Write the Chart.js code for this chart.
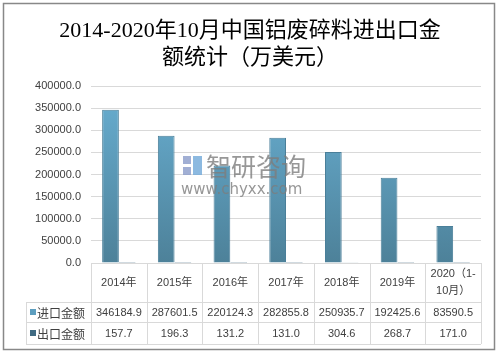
<!DOCTYPE html>
<html>
<head>
  <meta charset="UTF-8">
  <title>铝废碎料进出口金额</title>
  <script src="https://cdn.jsdelivr.net/npm/chart.js@4/dist/chart.umd.min.js"></script>
  <style>
    body { margin: 0; background: #fff; }
    #wrap { width: 500px; height: 354px; position: relative; }
  </style>
</head>
<body>
  <div id="wrap"><canvas id="chartAl" width="500" height="354"></canvas></div>

  <script>
    const titleLines = ["2014-2020年10月中国铝废碎料进出口金", "额统计（万美元）"];
    const years = ["2014年", "2015年", "2016年", "2017年", "2018年", "2019年", ["2020（1-", "10月）"]];
    const importVals = [346184.9, 287601.5, 220124.3, 282855.8, 250935.7, 192425.6, 83590.5];
    const exportVals = [157.7, 196.3, 131.2, 131.0, 304.6, 268.7, 171.0];
    const seriesNames = ["进口金额", "出口金额"];
    const yTicks = [0, 50000, 100000, 150000, 200000, 250000, 300000, 350000, 400000];

    const cjk = "'Noto Sans CJK SC', 'Liberation Sans', sans-serif";
    const num = "'Liberation Sans', 'Noto Sans CJK SC', sans-serif";
    const importColor = "#5d9ebf";
    const exportColor = "#3f6a82";

    function importGradient(ctx) {
      const area = ctx.chart.chartArea;
      if (!area) return importColor;
      const g = ctx.chart.ctx.createLinearGradient(0, area.top, 0, area.bottom);
      g.addColorStop(0, "#69afd2");
      g.addColorStop(1, "#4d8199");
      return g;
    }

    // frame, title, data table under the axis and the watermark
    const tablePlugin = {
      id: "tablePlugin",
      beforeDraw(chart) {
        const c = chart.ctx;
        c.save();
        c.fillStyle = "#fff";
        c.fillRect(0, 0, chart.width, chart.height);
        c.strokeStyle = "#888";
        c.lineWidth = 1.5;
        c.strokeRect(3.5, 3.5, 491, 346);
        c.fillStyle = "#000";
        c.textAlign = "center";
        c.textBaseline = "middle";
        c.font = "22px 'Liberation Serif', 'Noto Sans CJK SC', serif";
        c.fillText(titleLines[0], 250, 31);
        c.fillText(titleLines[1], 250, 58);
        c.restore();
      },
      afterDatasetsDraw(chart) {
        const c = chart.ctx;
        c.save();
        // watermark
        c.globalAlpha = 0.8;
        c.fillStyle = "#8a9bc9";
        c.fillRect(183, 156, 8, 8);
        c.fillRect(183, 167, 8, 8);
        c.fillStyle = "#6fa7d8";
        c.fillRect(193, 156, 9, 19);
        c.fillStyle = "#7d7d7d";
        c.font = "25px " + cjk;
        c.textBaseline = "middle";
        c.textAlign = "left";
        c.fillText("智研咨询", 206, 166);
        c.font = "15px 'DejaVu Sans', sans-serif";
        c.fillText("www.chyxx.com", 181, 190);
        c.restore();
      },
      afterDraw(chart) {
        const c = chart.ctx;
        const x = chart.scales.x;
        const area = chart.chartArea;
        const n = years.length;
        const w = (area.right - area.left) / n;
        const top = area.bottom;
        const r1 = top + 39, r2 = r1 + 20, r3 = r2 + 22;
        const legLeft = 26;
        c.save();
        c.strokeStyle = "#d9d9d9";
        c.lineWidth = 1;
        [[area.left, top], [legLeft, r1], [legLeft, r2], [legLeft, r3]].forEach(([x0, y]) => {
          c.beginPath();
          c.moveTo(x0, Math.round(y) + 0.5);
          c.lineTo(area.right, Math.round(y) + 0.5);
          c.stroke();
        });
        for (let i = 0; i <= n; i++) {
          const xx = Math.round(area.left + i * w) + 0.5;
          c.beginPath();
          c.moveTo(xx, top);
          c.lineTo(xx, r3);
          c.stroke();
        }
        c.beginPath();
        c.moveTo(legLeft + 0.5, r1);
        c.lineTo(legLeft + 0.5, r3);
        c.stroke();

        c.fillStyle = "#404040";
        c.textAlign = "center";
        c.textBaseline = "middle";
        c.font = "11px " + num;
        years.forEach((lab, i) => {
          const cx = x.getPixelForValue(i);
          const lines = Array.isArray(lab) ? lab : [lab];
          lines.forEach((ln, k) => {
            const y = (top + r1) / 2 + (k - (lines.length - 1) / 2) * 17;
            c.fillText(ln, cx, y);
          });
          c.fillText(importVals[i].toFixed(1), cx, (r1 + r2) / 2 + 1);
          c.fillText(exportVals[i].toFixed(1), cx, (r2 + r3) / 2 + 1);
        });

        const rows = [[r1, r2, importColor], [r2, r3, exportColor]];
        rows.forEach(([a, b, col], k) => {
          const cy = (a + b) / 2;
          c.fillStyle = col;
          c.fillRect(30, cy - 3, 6, 6);
          c.fillStyle = "#404040";
          c.textAlign = "left";
          c.font = "12px " + cjk;
          c.fillText(seriesNames[k], 37, cy + 1);
        });
        c.restore();
      }
    };

    const chartAl = new Chart(document.getElementById("chartAl"), {
      type: "bar",
      data: {
        labels: years,
        datasets: [
          { label: seriesNames[0], data: importVals, backgroundColor: importGradient, borderColor: "#4a7f99", borderWidth: 1 },
          { label: seriesNames[1], data: exportVals, backgroundColor: exportColor, borderColor: "#3a6177", borderWidth: 1 }
        ]
      },
      options: {
        responsive: false,
        animation: false,
        layout: { padding: { left: 0, right: 19, top: 86, bottom: 91 } },
        datasets: { bar: { categoryPercentage: 0.6, barPercentage: 1.0 } },
        plugins: {
          legend: { display: false },
          tooltip: { enabled: false },
          title: { display: false }
        },
        scales: {
          x: { display: false },
          y: {
            min: 0,
            max: 400000,
            afterFit(scale) { scale.width = 91; },
            afterBuildTicks(scale) { scale.ticks = yTicks.map(v => ({ value: v })); },
            border: { display: false },
            grid: { color: "#d9d9d9", drawTicks: false },
            ticks: {
              padding: 10,
              color: "#404040",
              font: { family: num, size: 11 },
              callback: v => v.toFixed(1)
            }
          }
        }
      },
      plugins: [tablePlugin]
    });
  </script>
</body>
</html>
